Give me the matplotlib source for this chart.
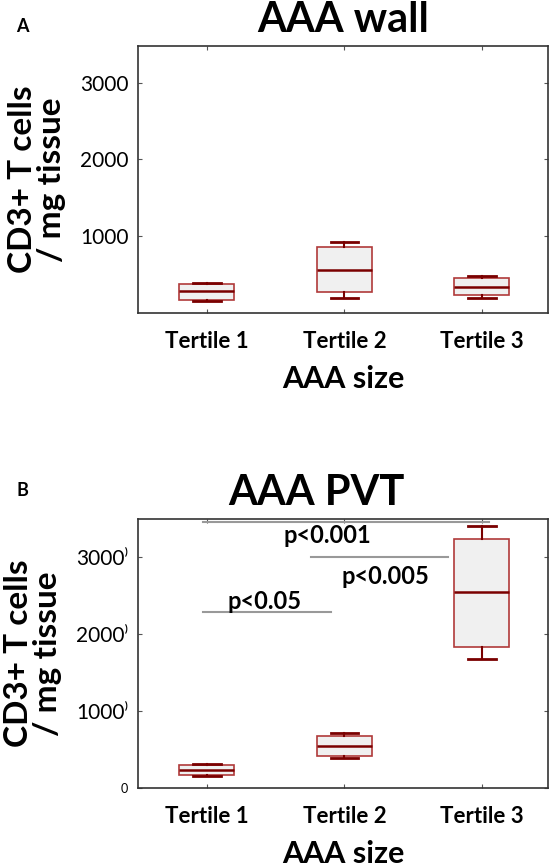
import matplotlib
matplotlib.use("Agg")
import matplotlib.pyplot as plt

plt.rcParams['font.family'] = ['Lato', 'DejaVu Sans']

tertiles = ['Tertile 1', 'Tertile 2', 'Tertile 3']

# panel A: AAA wall (box stats)
wall_whislo = [143, 190, 190]
wall_q1 = [165, 260, 229]
wall_med = [273, 554, 333]
wall_q3 = [368, 853, 442]
wall_whishi = [381, 913, 476]

# panel B: AAA PVT
pvt_whislo = [152, 386, 1679]
pvt_q1 = [174, 412, 1839]
pvt_med = [234, 542, 2547]
pvt_q3 = [299, 681, 3236]
pvt_whishi = [308, 716, 3410]

# significance bars
sig_x0 = [0.97, 1.76, 0.97]
sig_x1 = [3.05, 2.75, 1.90]
sig_y = [3466, 3011, 2291]
sig_labels = ['p<0.001', 'p<0.005', 'p<0.05']
sig_label_x = [1.88, 2.30, 1.42]
sig_label_y = [3280, 2755, 2430]

box_edge = '#b03a3a'
dark_red = '#7a0000'
fill = '#f0f0f0'


def make_stats(lo, q1, med, q3, hi):
    return [dict(whislo=a, q1=b, med=c, q3=d, whishi=e, fliers=[])
            for a, b, c, d, e in zip(lo, q1, med, q3, hi)]


def draw_panel(ax, stats):
    ax.bxp(stats, positions=[1, 2, 3], widths=0.4, showfliers=False,
           patch_artist=True,
           boxprops=dict(facecolor=fill, edgecolor=box_edge, linewidth=1.2),
           medianprops=dict(color=dark_red, linewidth=1.8),
           whiskerprops=dict(color=dark_red, linewidth=1.5),
           capprops=dict(color=dark_red, linewidth=2),
           capwidths=0.2)
    ax.set_xlim(0.5, 3.48)
    ax.set_xticks([1, 2, 3])
    ax.set_xticklabels(tertiles, fontsize=16, fontweight='bold')
    ax.tick_params(direction='in', top=True, right=True, length=3,
                   color='#555555', pad=13)
    ax.tick_params(axis='y', labelsize=15, pad=7)
    for s in ax.spines.values():
        s.set_color('#333333')
        s.set_linewidth(1.2)
    ax.set_xlabel('AAA size', fontsize=22, fontweight='bold', labelpad=9)
    ax.set_ylabel('CD3+ T cells\n/ mg tissue', fontsize=24, fontweight='bold',
                  labelpad=10, linespacing=1.0)


fig = plt.figure(figsize=(5.55, 8.67), dpi=100)
axA = fig.add_axes([138 / 555, 1 - 313 / 867, 410 / 555, 267 / 867])
axB = fig.add_axes([138 / 555, 1 - 788 / 867, 410 / 555, 269 / 867])

draw_panel(axA, make_stats(wall_whislo, wall_q1, wall_med, wall_q3, wall_whishi))
axA.set_ylim(-10, 3480)
axA.set_yticks([1000, 2000, 3000])
axA.set_yticklabels(['1000', '2000', '3000'])

draw_panel(axB, make_stats(pvt_whislo, pvt_q1, pvt_med, pvt_q3, pvt_whishi))
axB.set_ylim(0, 3500)
axB.set_yticks([0, 1000, 2000, 3000])
axB.set_yticklabels(['0', '1000⁾', '2000⁾', '3000⁾'])
axB.get_yticklabels()[0].set_fontsize(9)

for x0, x1, y, lab, lx, ly in zip(sig_x0, sig_x1, sig_y, sig_labels, sig_label_x, sig_label_y):
    axB.plot([x0, x1], [y, y], color='#999999', linewidth=1.5, clip_on=False)
    axB.text(lx, ly, lab, ha='center', va='center', fontsize=17, fontweight='bold')

fig.text(343 / 555, 1 - 20 / 867, 'AAA wall', fontsize=30, fontweight='bold',
         ha='center', va='center')
fig.text(316 / 555, 1 - 493 / 867, 'AAA PVT', fontsize=30, fontweight='bold',
         ha='center', va='center')

fig.text(16 / 555, 1 - 26 / 867, 'A', fontsize=13, fontweight='bold', ha='left', va='center')
fig.text(16 / 555, 1 - 490 / 867, 'B', fontsize=13, fontweight='bold', ha='left', va='center')

fig.savefig('out.png', dpi=100)
